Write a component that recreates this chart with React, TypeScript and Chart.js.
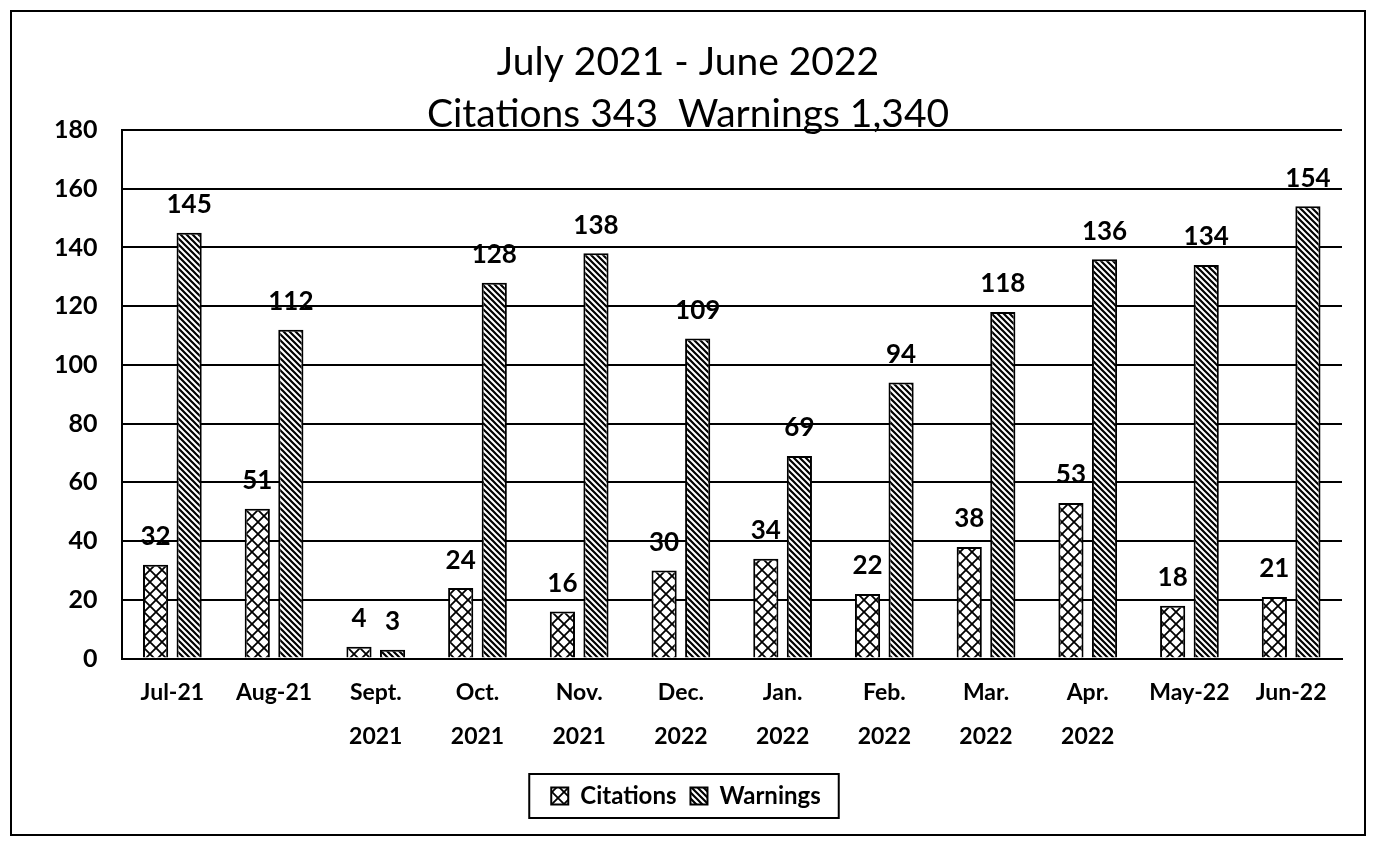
import React, { useEffect, useRef } from "react";
import { Chart, registerables } from "chart.js";

Chart.register(...registerables);

const categories: (string | string[])[] = [
  "Jul-21",
  "Aug-21",
  ["Sept.", "2021"],
  ["Oct.", "2021"],
  ["Nov.", "2021"],
  ["Dec.", "2022"],
  ["Jan.", "2022"],
  ["Feb.", "2022"],
  ["Mar.", "2022"],
  ["Apr.", "2022"],
  "May-22",
  "Jun-22",
];
const citations = [32, 51, 4, 24, 16, 30, 34, 22, 38, 53, 18, 21];
const warnings = [145, 112, 3, 128, 138, 109, 69, 94, 118, 136, 134, 154];
const titleLines = ["July 2021 - June 2022", "Citations 343  Warnings 1,340"];

const FONT = "Lato, 'Open Sans', sans-serif";

function makeCrossPattern(): CanvasPattern | string {
  const c = document.createElement("canvas");
  const s = 12;
  c.width = s;
  c.height = s;
  const g = c.getContext("2d");
  if (!g) return "#fff";
  g.fillStyle = "#fff";
  g.fillRect(0, 0, s, s);
  g.strokeStyle = "#000";
  g.lineWidth = 1.8;
  g.beginPath();
  g.moveTo(-1, -1);
  g.lineTo(s + 1, s + 1);
  g.moveTo(s + 1, -1);
  g.lineTo(-1, s + 1);
  g.stroke();
  const p = g.createPattern(c, "repeat");
  return p || "#fff";
}

function makeDiagPattern(): CanvasPattern | string {
  const c = document.createElement("canvas");
  const s = 6;
  c.width = s;
  c.height = s;
  const g = c.getContext("2d");
  if (!g) return "#000";
  g.fillStyle = "#fff";
  g.fillRect(0, 0, s, s);
  g.strokeStyle = "#000";
  g.lineWidth = 2.2;
  g.beginPath();
  g.moveTo(-s, -s);
  g.lineTo(2 * s, 2 * s);
  g.moveTo(-s, 0);
  g.lineTo(s, 2 * s);
  g.moveTo(0, -s);
  g.lineTo(2 * s, s);
  g.stroke();
  const p = g.createPattern(c, "repeat");
  return p || "#000";
}

const titlePlugin = {
  id: "customTitle",
  afterDraw(chart: any) {
    const ctx = chart.ctx;
    ctx.save();
    ctx.font = `39px ${FONT}`;
    ctx.fillStyle = "#000";
    ctx.textAlign = "center";
    ctx.textBaseline = "middle";
    const cx = chart.width / 2;
    ctx.fillText(titleLines[0], cx, 50);
    ctx.fillText(titleLines[1], cx, 102);
    ctx.restore();
  },
};

const dataLabelPlugin = {
  id: "dataLabels",
  afterDatasetsDraw(chart: any) {
    const ctx = chart.ctx;
    ctx.save();
    ctx.font = `bold 26px ${FONT}`;
    ctx.fillStyle = "#000";
    ctx.textAlign = "center";
    ctx.textBaseline = "bottom";
    chart.data.datasets.forEach((ds: any, di: number) => {
      const meta = chart.getDatasetMeta(di);
      meta.data.forEach((el: any, i: number) => {
        const v = ds.data[i];
        ctx.fillText(String(v), el.x, el.y - 15);
      });
    });
    ctx.restore();
  },
};

const legendBoxPlugin = {
  id: "legendBox",
  afterDraw(chart: any) {
    const lg = chart.legend;
    if (!lg || !lg.legendHitBoxes || !lg.legendHitBoxes.length) return;
    const boxes = lg.legendHitBoxes;
    let l = Infinity, t = Infinity, r = -Infinity, b = -Infinity;
    boxes.forEach((h: any) => {
      l = Math.min(l, h.left);
      t = Math.min(t, h.top);
      r = Math.max(r, h.left + h.width);
      b = Math.max(b, h.top + h.height);
    });
    const ctx = chart.ctx;
    ctx.save();
    ctx.strokeStyle = "#000";
    ctx.lineWidth = 2;
    ctx.strokeRect(l - 22, t - 10, r - l + 40, b - t + 20);
    ctx.restore();
  },
};

export default function App() {
  const ref = useRef<HTMLCanvasElement | null>(null);

  useEffect(() => {
    if (!ref.current) return;
    const cross = makeCrossPattern();
    const diag = makeDiagPattern();
    const chart = new Chart(ref.current, {
      type: "bar",
      data: {
        labels: categories as any,
        datasets: [
          {
            label: "Citations",
            data: citations,
            backgroundColor: cross as any,
            borderColor: "#000",
            borderWidth: 2,
            categoryPercentage: 0.66,
            barPercentage: 0.75,
          },
          {
            label: "Warnings",
            data: warnings,
            backgroundColor: diag as any,
            borderColor: "#000",
            borderWidth: 2,
            categoryPercentage: 0.66,
            barPercentage: 0.75,
          },
        ],
      },
      options: {
        animation: false,
        responsive: true,
        maintainAspectRatio: false,
        layout: { padding: { left: 18, right: 22, top: 118, bottom: 16 } },
        plugins: {
          title: { display: false },
          legend: {
            display: true,
            position: "bottom",
            labels: {
              color: "#000",
              font: { family: FONT, size: 24, weight: "bold" },
              boxWidth: 17,
              boxHeight: 17,
              padding: 14,
            },
          },
          tooltip: { enabled: false },
        },
        scales: {
          x: {
            grid: { display: false, drawTicks: false },
            border: { display: true, color: "#000", width: 2 },
            ticks: {
              color: "#000",
              font: { family: FONT, size: 23, weight: "bold", lineHeight: 1.9 },
              padding: 12,
              maxRotation: 0,
              autoSkip: false,
            },
          },
          y: {
            min: 0,
            max: 180,
            grid: { color: "#000", lineWidth: 2, drawTicks: false },
            border: { display: true, color: "#000", width: 2 },
            ticks: {
              stepSize: 20,
              color: "#000",
              font: { family: FONT, size: 25, weight: "bold" },
              padding: 24,
            },
          },
        },
      },
      plugins: [dataLabelPlugin, legendBoxPlugin, titlePlugin],
    });
    return () => chart.destroy();
  }, []);

  return (
    <div
      style={{
        marginLeft: 2,
        marginTop: 2,
        width: 1356,
        height: 826,
        border: "2px solid #000",
        boxSizing: "border-box",
        position: "relative",
        background: "#fff",
      }}
    >
      <canvas ref={ref} />
    </div>
  );
}
